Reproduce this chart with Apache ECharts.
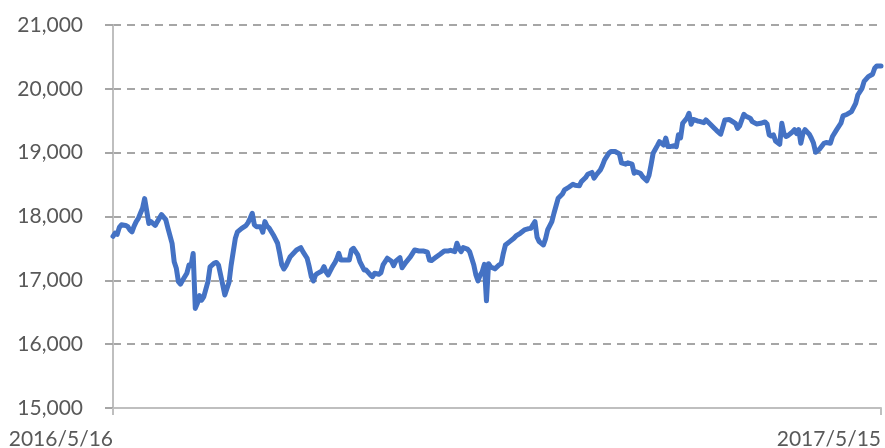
<!DOCTYPE html>
<html><head><meta charset="utf-8">
<script src="https://cdn.jsdelivr.net/npm/echarts@6/dist/echarts.min.js"></script>
<style>html,body{margin:0;padding:0;background:#fff}#c{width:885px;height:448px}</style>
</head><body><div id="c"></div>
<script>
const dates = [
'2016-05-16','2016-05-17','2016-05-18','2016-05-19','2016-05-20','2016-05-22','2016-05-23','2016-05-24','2016-05-25','2016-05-26',
'2016-05-27','2016-05-28','2016-05-29','2016-05-30','2016-05-31','2016-06-02','2016-06-03','2016-06-05','2016-06-06','2016-06-08',
'2016-06-10','2016-06-11','2016-06-13','2016-06-14','2016-06-15','2016-06-16','2016-06-17','2016-06-18','2016-06-20','2016-06-21',
'2016-06-22','2016-06-23','2016-06-24','2016-06-25','2016-06-26','2016-06-27','2016-06-28','2016-06-30','2016-07-01','2016-07-03',
'2016-07-04','2016-07-05','2016-07-07','2016-07-08','2016-07-10','2016-07-11','2016-07-13','2016-07-14',
'2016-07-16','2016-07-18','2016-07-19','2016-07-20','2016-07-21','2016-07-22','2016-07-23','2016-07-25','2016-07-26','2016-07-27',
'2016-07-28','2016-07-29','2016-07-31','2016-08-02','2016-08-03','2016-08-04','2016-08-05','2016-08-06','2016-08-08','2016-08-10',
'2016-08-11','2016-08-13','2016-08-14','2016-08-16','2016-08-17','2016-08-18','2016-08-19','2016-08-20','2016-08-21','2016-08-23',
'2016-08-24','2016-08-25','2016-08-26','2016-08-28','2016-08-29','2016-08-30','2016-08-31','2016-09-01','2016-09-03','2016-09-05',
'2016-09-06','2016-09-07','2016-09-09','2016-09-10','2016-09-12',
'2016-09-13','2016-09-15','2016-09-16','2016-09-17','2016-09-19','2016-09-20','2016-09-21','2016-09-23','2016-09-25','2016-09-26',
'2016-09-27','2016-09-29','2016-09-30','2016-10-02','2016-10-04','2016-10-06','2016-10-08','2016-10-10','2016-10-12','2016-10-13',
'2016-10-14','2016-10-16','2016-10-18','2016-10-20','2016-10-22','2016-10-23','2016-10-25','2016-10-26','2016-10-27','2016-10-28',
'2016-10-29','2016-10-31','2016-11-01','2016-11-03','2016-11-04','2016-11-05','2016-11-06','2016-11-07','2016-11-08','2016-11-09',
'2016-11-10',
'2016-11-11','2016-11-13','2016-11-15','2016-11-16','2016-11-17','2016-11-18','2016-11-20','2016-11-22','2016-11-23','2016-11-25',
'2016-11-27','2016-11-29','2016-11-30','2016-12-02','2016-12-03','2016-12-04','2016-12-06','2016-12-07','2016-12-08','2016-12-10',
'2016-12-11','2016-12-13','2016-12-15','2016-12-16','2016-12-18','2016-12-20','2016-12-21','2016-12-23','2016-12-24','2016-12-26',
'2016-12-27','2016-12-29','2016-12-30','2016-12-31','2017-01-02','2017-01-03','2017-01-04','2017-01-06','2017-01-07','2017-01-09',
'2017-01-10','2017-01-11','2017-01-12','2017-01-14','2017-01-15','2017-01-17','2017-01-18','2017-01-19','2017-01-21','2017-01-22',
'2017-01-24','2017-01-25','2017-01-26','2017-01-27','2017-01-29','2017-01-30','2017-02-01','2017-02-02','2017-02-03','2017-02-04',
'2017-02-06','2017-02-07','2017-02-08','2017-02-09','2017-02-10','2017-02-12','2017-02-13','2017-02-14','2017-02-15','2017-02-17',
'2017-02-18','2017-02-20','2017-02-21','2017-02-23','2017-02-25','2017-02-26','2017-02-28','2017-03-02','2017-03-04','2017-03-05',
'2017-03-07','2017-03-08','2017-03-09',
'2017-03-11','2017-03-12','2017-03-14','2017-03-15','2017-03-17','2017-03-19','2017-03-21','2017-03-22','2017-03-23','2017-03-24',
'2017-03-25','2017-03-26','2017-03-28','2017-03-29','2017-03-30','2017-03-31','2017-04-01','2017-04-03','2017-04-04','2017-04-05',
'2017-04-06','2017-04-07','2017-04-08','2017-04-09','2017-04-10','2017-04-11','2017-04-12','2017-04-13','2017-04-14','2017-04-16',
'2017-04-18','2017-04-19','2017-04-21','2017-04-22','2017-04-24','2017-04-26','2017-04-27','2017-04-29','2017-05-01','2017-05-03',
'2017-05-04','2017-05-06','2017-05-07','2017-05-09','2017-05-11','2017-05-12','2017-05-13','2017-05-15'
];
const values = [
17690,17740,17720,17830,17870,17860,17840,17790,17760,17850,
17920,17970,18050,18130,18280,17890,17920,17860,17920,18030,
17950,17820,17580,17290,17190,16980,16940,17000,17110,17240,
17230,17420,16560,16640,16760,16690,16740,16980,17210,17270,
17280,17240,16930,16770,16970,17240,17660,17760,
17815,17857,17904,17973,18051,17868,17841,17841,17753,17920,
17850,17820,17711,17581,17420,17241,17178,17230,17371,17440,
17476,17512,17450,17346,17214,17057,16990,17084,17110,17147,
17214,17130,17084,17214,17267,17330,17424,17319,17319,17319,
17476,17502,17400,17293,17162,
17160,17084,17057,17110,17095,17120,17241,17346,17300,17230,
17300,17355,17198,17290,17371,17476,17460,17460,17440,17319,
17310,17360,17408,17460,17460,17470,17450,17581,17500,17450,
17512,17490,17450,17241,17084,16990,17080,17136,17250,16680,
17260,
17210,17180,17241,17260,17424,17554,17606,17659,17695,17737,
17789,17810,17815,17920,17675,17606,17554,17650,17789,17920,
18051,18286,18353,18416,18458,18505,18490,18480,18546,18610,
18662,18690,18600,18650,18730,18800,18886,18991,19017,19017,
19000,18980,18840,18820,18840,18820,18677,18700,18677,18625,
18560,18640,18808,18991,19110,19173,19120,19229,19095,19095,
19110,19095,19280,19230,19461,19540,19618,19445,19520,19497,
19490,19470,19513,19450,19383,19350,19289,19513,19520,19500,
19460,19380,19420,
19602,19570,19540,19487,19450,19460,19482,19450,19280,19260,
19280,19184,19132,19461,19300,19253,19270,19324,19360,19300,
19360,19147,19300,19360,19324,19290,19226,19150,19006,19060,
19147,19160,19147,19253,19360,19461,19576,19602,19643,19774,
19903,20007,20117,20191,20229,20323,20359,20359
];
const startDate = '2016-05-16';
const endDate = '2017-05-15';
const yMin = 15000, yMax = 21000, yStep = 1000;

const ts = s => { const p = s.split('-').map(Number); return new Date(p[0], p[1] - 1, p[2]).getTime(); };
const fmtDate = v => { const d = new Date(v); return d.getFullYear() + '/' + (d.getMonth() + 1) + '/' + d.getDate(); };
const FONT = 'Lato';
const xEnds = [ts(startDate), ts(endDate)];
const chart = echarts.init(document.getElementById('c'), null, { renderer: 'canvas' });
chart.setOption({
  animation: false,
  grid: { left: 113, right: 4, top: 25, bottom: 40, containLabel: false, outerBoundsMode: 'none' },
  xAxis: {
    type: 'value', min: xEnds[0], max: xEnds[1],
    axisLine: { show: true, lineStyle: { color: '#bfbfbf', width: 2 } },
    axisTick: { show: true, length: 7, lineStyle: { color: '#bfbfbf', width: 2 }, customValues: xEnds },
    axisLabel: { customValues: xEnds, formatter: fmtDate, align: 'right', margin: 21,
      color: '#595959', fontSize: 21, fontFamily: FONT },
    splitLine: { show: false }
  },
  yAxis: {
    type: 'value', min: yMin, max: yMax, interval: yStep,
    axisLine: { show: true, lineStyle: { color: '#bfbfbf', width: 2 } },
    axisTick: { show: true, length: 8, lineStyle: { color: '#a6a6a6', width: 2 } },
    axisLabel: { formatter: v => v.toLocaleString('en-US'), margin: 30, color: '#595959', fontSize: 21, fontFamily: FONT },
    splitLine: { show: true, lineStyle: { color: '#a6a6a6', type: [8, 6], width: 2 } }
  },
  series: [{
    type: 'line', data: dates.map((d, i) => [ts(d), values[i]]), symbol: 'none', showSymbol: false, clip: false,
    lineStyle: { color: '#4472c4', width: 5, cap: 'round', join: 'round' }
  }]
});
</script></body></html>
